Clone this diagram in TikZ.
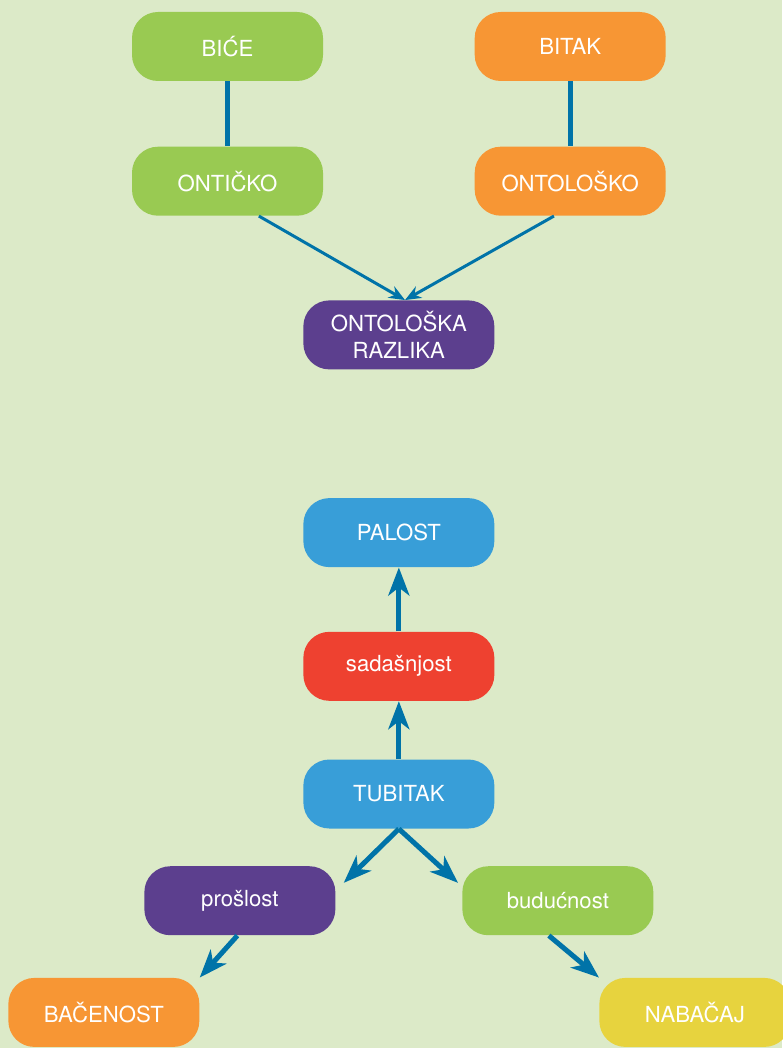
\documentclass[tikz,border=0pt]{standalone}
\usepackage{fontspec}
\setmainfont{TeX Gyre Heros}
\usepackage{tikz}
\usetikzlibrary{arrows.meta, positioning, calc}
\usepackage{xcolor}
\definecolor{bgcolor}{RGB}{220,234,200}
\definecolor{greenbox}{RGB}{153,202,82}
\definecolor{orangebox}{RGB}{247,150,52}
\definecolor{purplebox}{RGB}{92,63,142}
\definecolor{bluebox}{RGB}{56,158,216}
\definecolor{redbox}{RGB}{238,65,48}
\definecolor{yellowbox}{RGB}{231,211,62}
\definecolor{linkcolor}{RGB}{0,115,168}

\begin{document}
\begin{tikzpicture}[
    node distance=1.3cm,
    concept/.style={rectangle, rounded corners=0.52cm, minimum width=3.82cm, minimum height=1.38cm, inner sep=0pt, align=center, text=white, font=\fontsize{12.6}{15.3}\selectfont},
    link/.style={line width=0.1cm, linkcolor},
    thinarrow/.style={-{Stealth[length=0.32cm, width=0.26cm]}, line width=0.06cm, linkcolor},
    thickarrow/.style={-{Stealth[length=0.56cm, width=0.42cm, inset=0.16cm]}, line width=0.1cm, linkcolor}
]

\fill[bgcolor] (0,0) rectangle (15.64,-20.96);
\useasboundingbox (0,0) rectangle (15.64,-20.96);

\node[concept, fill=greenbox] (bice) at (4.55,-0.93) {BIĆE};
\node[concept, fill=orangebox, right=3.02cm of bice] (bitak) {BITAK};
\node[concept, fill=greenbox, below=of bice] (onticko) {ONTIČKO};
\node[concept, fill=orangebox, below=of bitak] (ontolosko) {ONTOLOŠKO};
\coordinate (mid) at ($(onticko.south)!0.5!(ontolosko.south)$);
\node[concept, fill=purplebox, below=1.68cm of mid] (razlika) {ONTOLOŠKA\\RAZLIKA};

\node[concept, fill=bluebox, below=2.56cm of razlika] (palost) {PALOST};
\node[concept, fill=redbox, below=1.28cm of palost] (sadasnjost) {sadašnjost};
\node[concept, fill=bluebox, below=1.16cm of sadasnjost] (tubitak) {TUBITAK};
\node[concept, fill=purplebox, below=0.74cm of tubitak, xshift=-3.18cm] (proslost) {prošlost};
\node[concept, fill=greenbox, below=0.74cm of tubitak, xshift=3.18cm] (buducnost) {budućnost};
\node[concept, fill=orangebox, below=0.84cm of proslost, xshift=-2.72cm] (bacenost) {BAČENOST};
\node[concept, fill=yellowbox, below=0.84cm of buducnost, xshift=2.74cm] (nabacaj) {NABAČAJ};

\draw[link] (bice) -- (onticko);
\draw[link] (bitak) -- (ontolosko);
\draw[thinarrow] (onticko.-48.5) -- (razlika.80);
\draw[thinarrow] (ontolosko.-115.6) -- (razlika.80);

\draw[thickarrow] (sadasnjost) -- (palost);
\draw[thickarrow] (tubitak) -- (sadasnjost);
\draw[thickarrow] (tubitak.south) -- ($(proslost.north east)+(0.16,-0.34)$);
\draw[thickarrow] (tubitak.south) -- ($(buducnost.north west)+(-0.08,-0.34)$);
\draw[thickarrow] ($(proslost.south)+(-0.05,0)$) -- (bacenost.north east);
\draw[thickarrow] ($(buducnost.south)+(-0.18,0)$) -- (nabacaj.north west);

\end{tikzpicture}
\end{document}
